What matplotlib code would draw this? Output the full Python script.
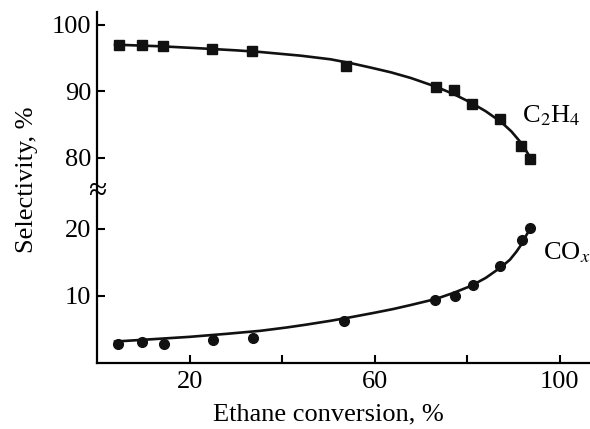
import matplotlib
matplotlib.use("Agg")
import matplotlib.pyplot as plt

plt.rcParams['font.family'] = ['Liberation Serif', 'DejaVu Serif']
plt.rcParams['mathtext.fontset'] = 'stix'

# Measured points
x_pts = [4.8, 9.75, 14.3, 24.9, 33.4, 53.7, 73.2, 77.1, 81.0, 87.1, 91.7, 93.6]
c2h4 = [96.9, 96.9, 96.8, 96.3, 96.0, 93.8, 90.6, 90.2, 88.1, 85.9, 81.8, 79.9]
x_pts_co = [4.5, 9.75, 14.5, 25.1, 33.8, 53.3, 73.0, 77.3, 81.2, 87.1, 91.9, 93.6]
cox = [2.9, 3.2, 2.9, 3.4, 3.8, 6.3, 9.4, 10.0, 11.7, 14.4, 18.4, 20.2]

# Fitted trend lines
fit_x_c2h4 = [3.9, 14.0, 22.3, 30.0, 35.3, 44.0, 50.5, 55.0, 59.2, 63.5, 67.8, 73.2,
              77.0, 80.8, 84.0, 87.3, 89.5, 91.7, 93.4]
fit_c2h4 = [97.0, 96.75, 96.45, 96.15, 95.9, 95.35, 94.8, 94.2, 93.55, 92.85, 92.0, 90.7,
            89.6, 88.3, 87.0, 85.4, 84.0, 82.2, 80.3]
fit_x_cox = [3.9, 12.0, 20.0, 28.0, 35.3, 41.0, 45.0, 50.5, 55.0, 60.0, 64.0, 67.8,
             73.2, 77.0, 80.8, 84.0, 87.3, 89.2, 90.6, 91.8, 92.7, 93.8]
fit_cox = [3.2, 3.55, 3.9, 4.35, 4.8, 5.3, 5.7, 6.3, 6.85, 7.5, 8.05, 8.65,
           9.55, 10.45, 11.5, 12.7, 14.3, 15.4, 16.6, 17.8, 19.0, 20.3]

xticks = [20, 40, 60, 80, 100]
xticklabels = ['20', '', '60', '', '100']
top_yticks = [80, 90, 100]
bot_yticks = [10, 20]

fig = plt.figure(figsize=(5.9, 4.29), dpi=100)
L, R = 97 / 590, 1.0
yb, ybr, yt = 1 - 363 / 429, 1 - 192 / 429, 1 - 12 / 429
ax_b = fig.add_axes([L, yb, R - L, ybr - yb])
ax_t = fig.add_axes([L, ybr, R - L, yt - ybr])

lw_ax = 1.6
fs = 19
xmax = 106.5
for ax in (ax_b, ax_t):
    for s in ('top', 'right'):
        ax.spines[s].set_visible(False)
    ax.spines['left'].set_linewidth(lw_ax)
    ax.set_xlim(0, xmax)
    ax.tick_params(direction='in', length=6, width=1.5, labelsize=fs, pad=4)
ax_t.spines['bottom'].set_visible(False)
ax_b.spines['bottom'].set_linewidth(lw_ax)
ax_t.tick_params(axis='x', bottom=False, labelbottom=False)

ax_b.set_ylim(0, 25.5)
ax_t.set_ylim(74.9, 101.9)
ax_t.set_yticks(top_yticks)
ax_b.set_yticks(bot_yticks)
ax_b.set_xticks(xticks)
ax_b.set_xticklabels(xticklabels)
ax_b.tick_params(axis='x', pad=6)

ax_t.plot(fit_x_c2h4, fit_c2h4, color='#111111', lw=1.9)
ax_t.plot(x_pts, c2h4, 's', color='#111111', ms=7.5)
ax_b.plot(fit_x_cox, fit_cox, color='#111111', lw=1.9)
ax_b.plot(x_pts_co, cox, 'o', color='#111111', ms=7)

ax_t.text(91.8, 86.4, r'C$_2$H$_4$', fontsize=fs, va='center', ha='left')
ax_b.text(96.3, 16.4, r'CO$_{\mathit{x}}$', fontsize=fs, va='center', ha='left')

ax_b.set_xlabel('Ethane conversion, %', fontsize=fs)
ax_b.xaxis.set_label_coords(50 / xmax, -0.235)
fig.text(0.045, 1 - 180 / 429, 'Selectivity, %', rotation=90, fontsize=fs,
         ha='center', va='center')
fig.text(L, ybr, '\u2248', fontsize=24, ha='center', va='center')

fig.savefig('out.png', dpi=100)
